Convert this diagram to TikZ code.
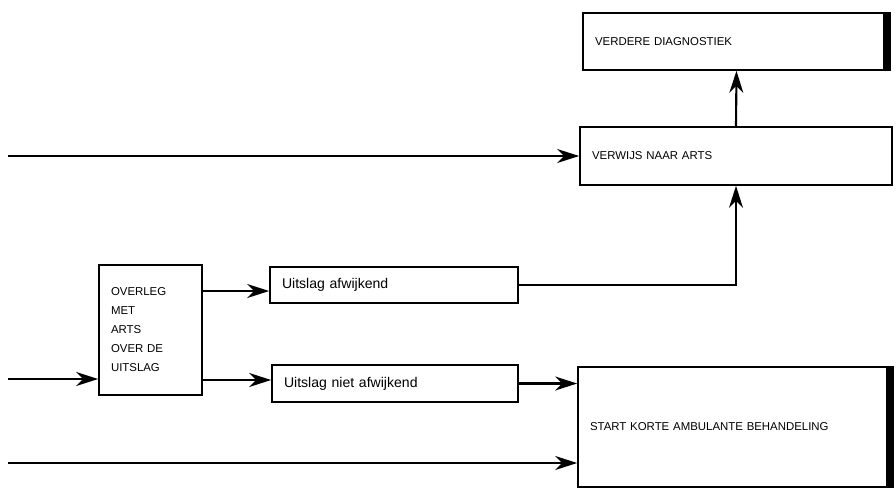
\documentclass[tikz,border=0pt]{standalone}
\usepackage{fontspec}
\setmainfont{Liberation Sans}
\usetikzlibrary{arrows.meta,positioning,calc}

\begin{document}
\begin{tikzpicture}[x=0.02cm,y=-0.02cm,
  caps/.style={font=\fontsize{6.5}{10.8}\selectfont},
  lower/.style={font=\fontsize{8}{10}\selectfont},
  box/.style={draw=black,line width=1pt,align=left,inner xsep=0.24cm,inner ysep=0pt},
  ar/.style={-{Stealth[length=4.4mm,width=2.8mm,inset=1.4mm]},line width=1.2pt},
  edge/.style={line width=0.15cm}]
\useasboundingbox (0,0) rectangle (896,495);
% boxes
\node[box,caps,text width=5.66cm,minimum height=1.14cm] (diag) at (736.5,41.5) {VERDERE DIAGNOSTIEK};
\node[box,caps,text width=5.76cm,minimum height=1.16cm] (verwijs) at (736,156) {VERWIJS NAAR ARTS};
\node[box,caps,text width=1.58cm,minimum height=2.6cm] (overleg) at (150.5,330) {OVERLEG\\MET\\ARTS\\OVER DE\\UITSLAG};
\node[box,lower,text width=4.48cm,minimum height=0.72cm] (afw) at (394,285) {Uitslag afwijkend};
\node[box,lower,text width=4.44cm,minimum height=0.74cm] (niet) at (395,383.5) {Uitslag niet afwijkend};
\node[box,caps,text width=5.82cm,minimum height=2.4cm] (start) at (735.5,427) {START KORTE AMBULANTE BEHANDELING};
\foreach \n in {diag,start} \draw[edge] ([xshift=-0.075cm]\n.north east) -- ([xshift=-0.075cm]\n.south east);
% connectors
\coordinate (inA) at (8,156);
\coordinate (inB) at (8,379);
\coordinate (inC) at (8,463);
\coordinate (o1) at ([yshift=0.78cm]overleg.east);
\coordinate (o2) at ([yshift=-1.0cm]overleg.east);
\draw[ar] (inA) -- (verwijs.west);
\draw[ar] (inB) -- (inB -| overleg.west);
\draw[ar] (inC) -- (inC -| start.west);
\draw[ar] (o1) -- (o1 -| afw.west);
\draw[ar] (o2) -- (o2 -| niet.west);
\draw[ar] (afw.east) -| (verwijs.south);
\draw[ar] (niet.east) -- (niet.east -| start.west);
\draw[ar] (verwijs.north) -- (diag.south);
\end{tikzpicture}
\end{document}
